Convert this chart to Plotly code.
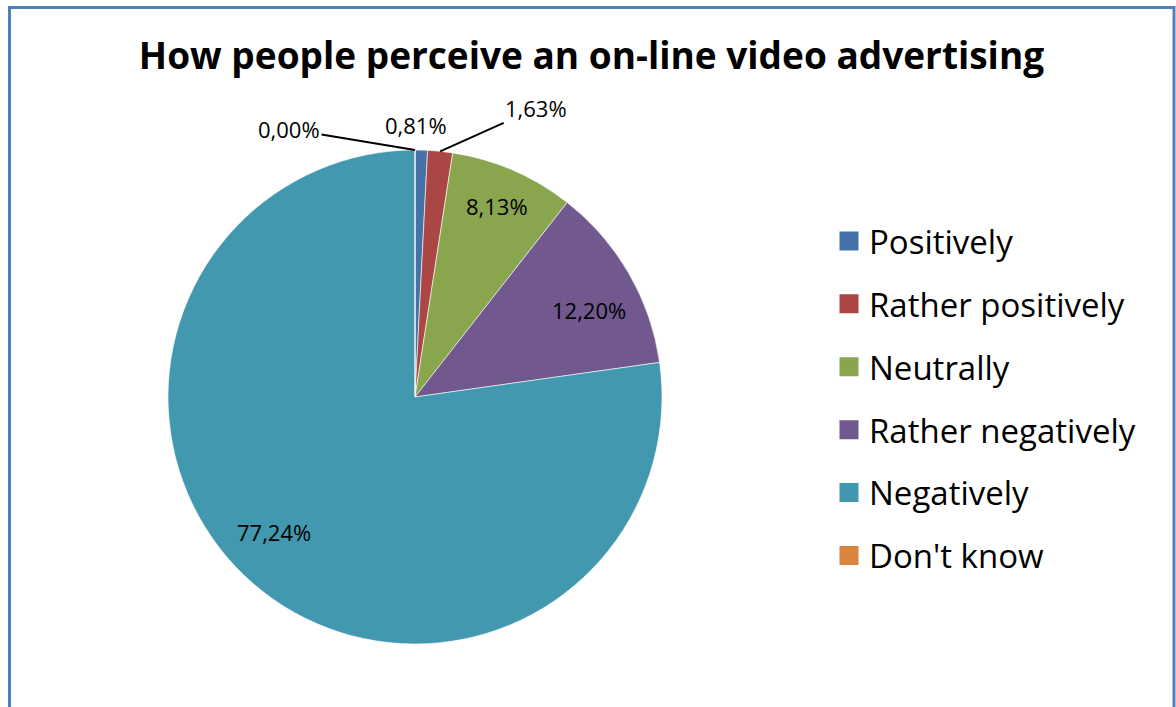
import math
import plotly.graph_objects as go

# ---- data ----
categories = ["Positively", "Rather positively", "Neutrally", "Rather negatively", "Negatively", "Don't know"]
counts = [1, 2, 10, 15, 95, 0]
colors = ["#4572A7", "#AA4643", "#89A54E", "#71588F", "#4198AF", "#DB843D"]
title_text = "How people perceive an on-line video advertising"

# label placement styles (radius fraction, angle tweak in degrees) per slice
label_r = [1.10, None, 0.84, 0.786, 0.79, None]
label_da = [-1.2, 0, -0.2, 3.4, 5.4, 0]

W, H = 1176, 707
FONT = "'Open Sans', Lato, sans-serif"

# pie geometry (pixels)
cx, cy, R = 415, 397, 247
total = sum(counts)
pcts = [c / total * 100 for c in counts]


def fmt(p):
    return f"{p:.2f}%".replace(".", ",")


def px(x, y):
    return x / W, 1 - y / H


fig = go.Figure()
fig.add_trace(go.Pie(
    labels=categories, values=counts, sort=False, direction="clockwise", rotation=0,
    marker=dict(colors=colors, line=dict(color="white", width=0.6)),
    textinfo="none", hoverinfo="label+percent", showlegend=False,
    domain=dict(x=[(cx - R) / W, (cx + R) / W], y=[(H - cy - R) / H, (H - cy + R) / H]),
))

# legend via dummy traces (to get Excel-like spacing)
for cat, col in zip(categories, colors):
    fig.add_trace(go.Scatter(
        x=[None], y=[None], mode="markers", name=cat, legendgroup=cat,
        marker=dict(symbol="square", size=16, color=col, line=dict(color=col, width=3)),
    ))

LBL = dict(size=22, color="#000", family=FONT)
annotations = []
cum = 0.0
for i, p in enumerate(pcts):
    start = cum
    cum += p
    mid = (start + cum) / 2 * 3.6
    if label_r[i] is not None:
        a = math.radians(mid + label_da[i])
        r = label_r[i] * R
        x, y = px(cx + r * math.sin(a), cy - r * math.cos(a))
        annotations.append(dict(x=x, y=y, xref="paper", yref="paper", text=fmt(p),
                                xanchor="center", yanchor="middle",
                                showarrow=False, font=LBL))
    else:
        a = math.radians(mid)
        ex, ey = px(cx + R * math.sin(a), cy - R * math.cos(a))
        off = (-126, -21) if p == 0 else (96, -43)
        annotations.append(dict(x=ex, y=ey, xref="paper", yref="paper", text=fmt(p),
                                showarrow=True, arrowhead=0, arrowwidth=2, arrowcolor="#000",
                                standoff=0, ax=off[0], ay=off[1], font=LBL))

fig.update_layout(
    width=W, height=H,
    margin=dict(l=0, r=0, t=0, b=0),
    paper_bgcolor="white", plot_bgcolor="white",
    title=dict(text=f"<b>{title_text}</b>", x=591.5 / W, xanchor="center", y=1 - 56 / H, yanchor="middle",
               font=dict(size=37, color="#000", family=FONT)),
    xaxis=dict(visible=False), yaxis=dict(visible=False),
    showlegend=True,
    legend=dict(x=829 / W, xanchor="left", y=1 - 213 / H, yanchor="top",
                font=dict(size=33, color="#000", family=FONT),
                tracegroupgap=17, traceorder="grouped", bgcolor="rgba(0,0,0,0)"),
    annotations=annotations,
    shapes=[dict(type="rect", xref="paper", yref="paper",
                 x0=9.5 / W, x1=1174 / W, y0=-0.05, y1=1 - 7.5 / H,
                 line=dict(color="#4F81BD", width=3), fillcolor="rgba(0,0,0,0)")],
)

fig.write_html("out.html")
